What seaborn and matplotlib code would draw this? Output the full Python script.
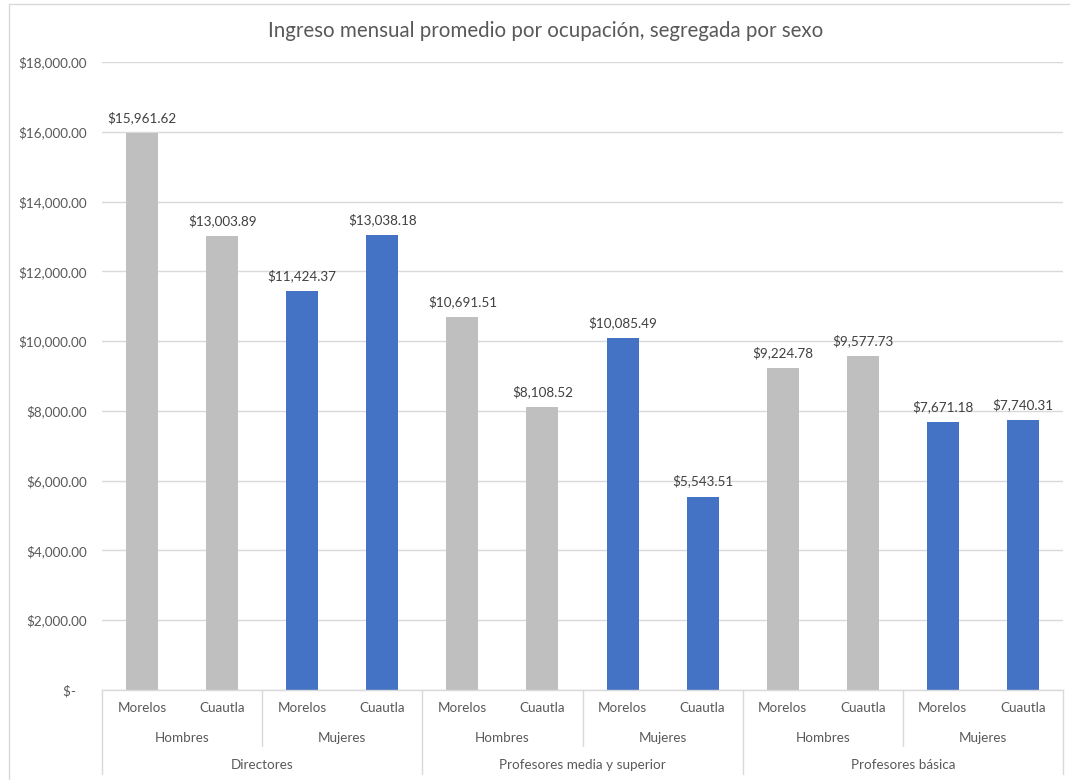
import matplotlib
matplotlib.use("Agg")
import matplotlib.pyplot as plt
from matplotlib.lines import Line2D
from matplotlib.ticker import FuncFormatter
import seaborn as sns
import pandas as pd

# ---- data ----
occupations = ["Directores", "Profesores media y superior", "Profesores básica"]
sexes = ["Hombres", "Mujeres"]
places = ["Morelos", "Cuautla"]
directores = [15961.62, 13003.89, 11424.37, 13038.18]
profesores_media = [10691.51, 8108.52, 10085.49, 5543.51]
profesores_basica = [9224.78, 9577.73, 7671.18, 7740.31]
title = "Ingreso mensual promedio por ocupación, segregada por sexo"

rows = []
for occ, vals in zip(occupations, [directores, profesores_media, profesores_basica]):
    i = 0
    for s in sexes:
        for p in places:
            rows.append({"Ocupacion": occ, "Sexo": s, "Lugar": p,
                         "key": f"{occ}|{s}|{p}", "Ingreso": vals[i]})
            i += 1
df = pd.DataFrame(rows)

sns.set_theme(style="white")
plt.rcParams['font.family'] = ['Lato', 'DejaVu Sans']

W, H = 1070, 780
fig = plt.figure(figsize=(W / 100, H / 100), dpi=100)
left, right, bottom, top = 102, 1063, 690, 62
ax = fig.add_axes([left / W, (H - bottom) / H, (right - left) / W, (bottom - top) / H])

palette = {"Hombres": "#BFBFBF", "Mujeres": "#4472C4"}
sns.barplot(data=df, x="key", y="Ingreso", hue="Sexo", order=list(df["key"]),
            palette=palette, dodge=False, width=0.4, ax=ax, legend=False,
            saturation=1, errorbar=None, linewidth=0, edgecolor="none")

text_col = "#595959"
grid_col = "#D9D9D9"

ax.set_xlim(-0.5, len(df) - 0.5)
ax.set_ylim(0, 18000)
ax.set_yticks(range(0, 18001, 2000))
ax.yaxis.set_major_formatter(FuncFormatter(lambda v, p: "$-   " if v == 0 else f"${v:,.2f}"))
ax.yaxis.grid(True, color=grid_col, lw=1)
ax.set_axisbelow(True)
for sp in ["top", "right", "left"]:
    ax.spines[sp].set_visible(False)
ax.spines["bottom"].set_color(grid_col)
ax.spines["bottom"].set_linewidth(1)
ax.tick_params(axis="y", length=0, pad=11, labelsize=9.7, labelcolor=text_col)
ax.set_xticks(range(len(df)))
ax.set_xticklabels(df["Lugar"])
ax.tick_params(axis="x", length=0, pad=9, labelsize=9.7, labelcolor=text_col)
ax.set_xlabel("")
ax.set_ylabel("")

# data labels
for i, v in enumerate(df["Ingreso"]):
    ax.annotate(f"${v:,.2f}", (i, v), xytext=(0, 6.5), textcoords="offset points",
                ha="center", va="bottom", fontsize=9.7, color="#404040")

# multi-level category axis
ah = bottom - top
tr = ax.get_xaxis_transform()
y_sex = -(738 - bottom) / ah
y_occ = -(765 - bottom) / ah
y_sep_sex = -(746 - bottom) / ah
y_sep_occ = -(774 - bottom) / ah
n_per_occ = len(sexes) * len(places)
for oi, occ in enumerate(occupations):
    x0 = oi * n_per_occ - 0.5
    ax.text(x0 + n_per_occ / 2, y_occ, occ, transform=tr, ha="center", va="center",
            fontsize=9.7, color=text_col)
    for si, s in enumerate(sexes):
        xs = x0 + si * len(places)
        ax.text(xs + len(places) / 2, y_sex, s, transform=tr, ha="center", va="center",
                fontsize=9.7, color=text_col)
        if si > 0:
            ax.add_line(Line2D([xs, xs], [0, y_sep_sex], transform=tr, color=grid_col,
                               lw=1, clip_on=False))
for oi in range(len(occupations) + 1):
    xb = oi * n_per_occ - 0.5
    ax.add_line(Line2D([xb, xb], [0, y_sep_occ], transform=tr, color=grid_col,
                       lw=1, clip_on=False))

fig.text(546 / W, 1 - 31 / H, title, ha="center", va="center", fontsize=14.8, color=text_col)

# chart frame edges
fig.add_artist(Line2D([9 / W, 1], [1 - 4 / H, 1 - 4 / H], transform=fig.transFigure,
                      color=grid_col, lw=1))
fig.add_artist(Line2D([9 / W, 9 / W], [0, 1 - 4 / H], transform=fig.transFigure,
                      color=grid_col, lw=1))

fig.savefig("out.png", dpi=100, facecolor="white")
